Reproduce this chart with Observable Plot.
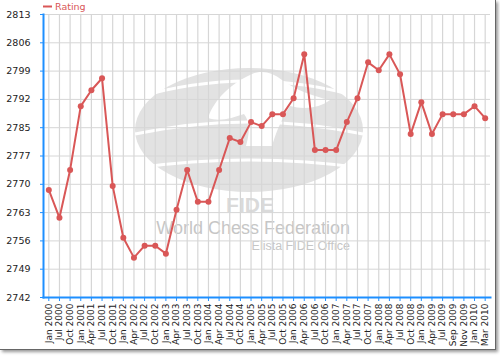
<!DOCTYPE html>
<html>
<head>
<meta charset="utf-8">
<script src="https://cdn.jsdelivr.net/npm/d3@7"></script>
<script src="https://cdn.jsdelivr.net/npm/@observablehq/plot@0.6"></script>
<style>
  html, body { margin: 0; padding: 0; background: #fff; }
  #frame {
    position: absolute; left: 0; top: 0;
    width: 495px; height: 349px;
    border-right: 1px solid #666; border-bottom: 1px solid #666;
    box-shadow: 2px 2px 3px #999;
    background: #fff;
  }
  #frame svg { display: block; }
</style>
</head>
<body>
<div id="frame"></div>
<script>
const months = [
  "Jan 2000","Jul 2000","Oct 2000",
  "Jan 2001","Apr 2001","Jul 2001","Oct 2001",
  "Jan 2002","Apr 2002","Jul 2002","Oct 2002",
  "Jan 2003","Apr 2003","Jul 2003","Oct 2003",
  "Jan 2004","Apr 2004","Jul 2004","Oct 2004",
  "Jan 2005","Apr 2005","Jul 2005","Oct 2005",
  "Jan 2006","Apr 2006","Jul 2006","Oct 2006",
  "Jan 2007","Apr 2007","Jul 2007","Oct 2007",
  "Jan 2008","Apr 2008","Jul 2008","Oct 2008",
  "Jan 2009","Apr 2009","Jul 2009","Sep 2009","Nov 2009",
  "Jan 2010","Mar 2010"
];
const ratings = [
  2769, 2762, 2774,
  2790, 2794, 2797, 2770,
  2757, 2752, 2755, 2755,
  2753, 2764, 2774, 2766,
  2766, 2774, 2782, 2781,
  2786, 2785, 2788, 2788,
  2792, 2803, 2779, 2779,
  2779, 2786, 2792, 2801,
  2799, 2803, 2798, 2783,
  2791, 2783, 2788, 2788, 2788,
  2790, 2787
];
const yTickValues = [2742, 2749.1, 2756.2, 2763.3, 2770.4, 2777.5, 2784.6, 2791.7, 2798.8, 2805.9, 2813];
const yTickLabels = ["2742","2749","2756","2763","2770","2777","2785","2792","2799","2806","2813"];
const seriesName = "Rating";

const data = months.map((m, i) => ({month: m, rating: ratings[i]}));
const lineColor = "#d95757";
const axisBlue = "#1e8fff";
const gridColor = "#d6d6d6";

const chart = Plot.plot({
  width: 495,
  height: 349,
  marginLeft: 43,
  marginRight: 5,
  marginTop: 14,
  marginBottom: 52,
  style: {fontFamily: "DejaVu Sans, Verdana, sans-serif", fontSize: "9px", background: "transparent", overflow: "visible"},
  x: {type: "point", domain: months, padding: 0.5, round: false},
  y: {domain: [2742, 2813]},
  marks: [
    Plot.ruleY(yTickValues, {stroke: gridColor, strokeWidth: 1}),
    Plot.ruleX(data, {x: "month", stroke: gridColor, strokeWidth: 1.2}),
    Plot.line(data, {x: "month", y: "rating", stroke: lineColor, strokeWidth: 2}),
    Plot.dot(data, {x: "month", y: "rating", r: 3, fill: lineColor, stroke: "none"}),
    Plot.axisX({tickRotate: -90, tickSize: 4, tickPadding: 2, stroke: axisBlue, fill: "#222", label: null, fontSize: 9}),
    Plot.axisY({ticks: yTickValues, tickFormat: (d, i) => yTickLabels[i], tickSize: 3, tickPadding: 10, stroke: axisBlue, fill: "#222", label: null, fontSize: 9.5}),
    Plot.frame({anchor: "left", stroke: axisBlue, strokeWidth: 2}),
    Plot.frame({anchor: "bottom", stroke: axisBlue, strokeWidth: 2})
  ]
});

document.getElementById("frame").appendChild(chart);

// Watermark (decorative FIDE logo) placed beneath the grid
const svg = d3.select(chart);
const wm = svg.insert("g", "g");
wm.append("ellipse").attr("cx", 249).attr("cy", 130).attr("rx", 114).attr("ry", 62).attr("fill", "#e2e2e2");
[[92, -10], [128, 0], [162, 8]].forEach(([yy, bend]) => {
  wm.append("path")
    .attr("d", `M135,${yy + 6} Q249,${yy - 18 + bend} 363,${yy + 6}`)
    .attr("fill", "none").attr("stroke", "#fff").attr("stroke-width", 3);
});
wm.append("path")
  .attr("d", "M208,118 C214,100 230,84 252,74 C262,70 272,72 282,80 C296,90 312,96 330,100 C320,108 304,110 290,106 C282,118 276,132 272,146 L246,146 C250,132 250,122 244,114 C232,118 220,122 208,118 Z")
  .attr("fill", "#fff");
wm.append("text").attr("x", 250).attr("y", 212).attr("text-anchor", "middle")
  .attr("font-family", "Liberation Sans, Arial, sans-serif").attr("font-weight", "bold").attr("font-size", 21)
  .attr("fill", "#dadada").text("FIDE");
wm.append("text").attr("x", 350).attr("y", 234).attr("text-anchor", "end")
  .attr("font-family", "Liberation Sans, Arial, sans-serif").attr("font-size", 18)
  .attr("fill", "#c6c6c6").text("World Chess Federation");
wm.append("text").attr("x", 350).attr("y", 250).attr("text-anchor", "end")
  .attr("font-family", "Liberation Sans, Arial, sans-serif").attr("font-size", 12.5)
  .attr("fill", "#c6c6c6").text("Elista FIDE Office");

// Legend
const lg = svg.append("g");
lg.append("line").attr("x1", 43).attr("x2", 52).attr("y1", 6.5).attr("y2", 6.5).attr("stroke", lineColor).attr("stroke-width", 2);
lg.append("text").attr("x", 55).attr("y", 10).attr("text-anchor", "start").attr("font-size", 9.5).attr("fill", lineColor)
  .attr("font-family", "DejaVu Sans, Verdana, sans-serif").text(seriesName);
</script>
</body>
</html>
